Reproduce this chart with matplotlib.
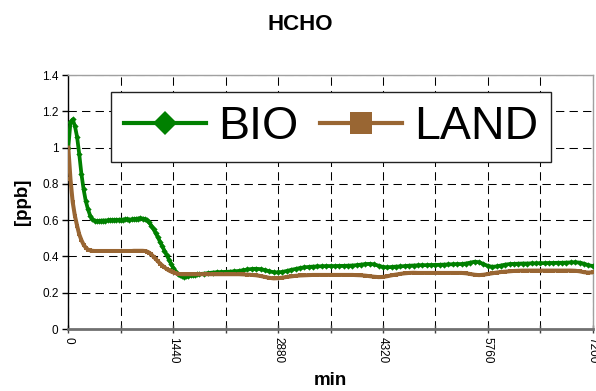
import matplotlib
matplotlib.use("Agg")
import matplotlib.pyplot as plt
from matplotlib.lines import Line2D

plt.rcParams["font.family"] = ["Liberation Sans", "DejaVu Sans"]

# Time axis: 30-min steps for the first 1800 min, hourly afterwards
minutes = list(range(0, 1800 + 1, 30)) + list(range(1860, 7200 + 1, 60))

bio_ppb = [
    # 0 .. 1800 (30-min)
    1.000, 1.140, 1.155, 1.120, 1.060, 0.965, 0.855, 0.770, 0.705, 0.660,
    0.625, 0.605, 0.597, 0.595, 0.595, 0.597, 0.598, 0.598, 0.599, 0.600,
    0.600, 0.601, 0.602, 0.602, 0.603, 0.603, 0.604, 0.604, 0.603, 0.604,
    0.605, 0.607, 0.609, 0.610, 0.609, 0.606, 0.600, 0.588, 0.570, 0.550,
    0.528, 0.505, 0.480, 0.456, 0.432, 0.408, 0.383, 0.360, 0.338, 0.318,
    0.303, 0.295, 0.290, 0.289, 0.290, 0.292, 0.295, 0.298, 0.300, 0.302,
    0.303,
    # 1860 .. 7200 (hourly)
    0.305, 0.308, 0.311, 0.313, 0.314, 0.315, 0.316, 0.318, 0.320, 0.324,
    0.328, 0.331, 0.332, 0.330, 0.325, 0.318, 0.313, 0.312, 0.315, 0.320,
    0.326, 0.331, 0.336, 0.340, 0.342, 0.344, 0.345, 0.346, 0.347, 0.347,
    0.347, 0.348, 0.348, 0.349, 0.350, 0.352, 0.355, 0.358, 0.359, 0.356,
    0.349, 0.342, 0.340, 0.342, 0.344, 0.345, 0.347, 0.349, 0.350, 0.351,
    0.352, 0.352, 0.353, 0.353, 0.354, 0.355, 0.356, 0.357, 0.358, 0.358,
    0.361, 0.366, 0.371, 0.368, 0.358, 0.348, 0.343, 0.345, 0.350, 0.355,
    0.358, 0.359, 0.360, 0.361, 0.361, 0.362, 0.362, 0.363, 0.363, 0.364,
    0.364, 0.365, 0.365, 0.366, 0.367, 0.368, 0.366, 0.360, 0.352, 0.347,
]

land_ppb = [
    # 0 .. 1800 (30-min)
    1.000, 0.825, 0.700, 0.625, 0.570, 0.522, 0.490, 0.465, 0.448, 0.438,
    0.433, 0.431, 0.430, 0.430, 0.430, 0.430, 0.430, 0.430, 0.430, 0.430,
    0.430, 0.430, 0.430, 0.430, 0.430, 0.430, 0.430, 0.430, 0.430, 0.430,
    0.431, 0.431, 0.431, 0.431, 0.431, 0.430, 0.427, 0.421, 0.411, 0.399,
    0.386, 0.373, 0.361, 0.350, 0.340, 0.331, 0.323, 0.317, 0.312, 0.308,
    0.305, 0.303, 0.302, 0.302, 0.302, 0.302, 0.302, 0.302, 0.302, 0.302,
    0.302,
    # 1860 .. 7200 (hourly)
    0.302, 0.302, 0.302, 0.302, 0.302, 0.302, 0.302, 0.302, 0.302, 0.301,
    0.300, 0.298, 0.296, 0.292, 0.287, 0.282, 0.279, 0.280, 0.283, 0.287,
    0.290, 0.293, 0.295, 0.296, 0.297, 0.298, 0.298, 0.298, 0.298, 0.298,
    0.298, 0.298, 0.298, 0.298, 0.298, 0.297, 0.296, 0.294, 0.291, 0.288,
    0.286, 0.287, 0.291, 0.296, 0.300, 0.304, 0.307, 0.309, 0.310, 0.309,
    0.309, 0.309, 0.309, 0.309, 0.309, 0.309, 0.309, 0.309, 0.309, 0.309,
    0.307, 0.303, 0.299, 0.297, 0.299, 0.303, 0.307, 0.311, 0.314, 0.316,
    0.318, 0.320, 0.321, 0.322, 0.322, 0.322, 0.322, 0.322, 0.322, 0.322,
    0.322, 0.322, 0.322, 0.322, 0.322, 0.321, 0.318, 0.313, 0.311, 0.312,
]

series_names = ["BIO", "LAND"]
series_colors = ["#008000", "#996633"]

x_ticks = list(range(0, 7200 + 1, 720))
x_tick_labels = ["0", "", "1440", "", "2880", "", "4320", "", "5760", "", "7200"]
y_ticks = [0, 0.2, 0.4, 0.6, 0.8, 1.0, 1.2, 1.4]
y_tick_labels = ["0", "0.2", "0.4", "0.6", "0.8", "1", "1.2", "1.4"]

fig = plt.figure(figsize=(5.96, 3.91), dpi=100)
ax = fig.add_axes([68.3 / 596, 62 / 391, 524.4 / 596, 254 / 391])

ax.plot(minutes, bio_ppb, color=series_colors[0], lw=2.7, marker="D",
        markersize=3.2, markeredgewidth=0, zorder=3)
ax.plot(minutes, land_ppb, color=series_colors[1], lw=2.9, marker="s",
        markersize=3.4, markeredgewidth=0, zorder=3)

ax.set_xlim(0, 7200)
ax.set_ylim(0, 1.4)
ax.set_xticks(x_ticks)
ax.set_xticklabels(x_tick_labels, rotation=270, fontsize=8.5)
ax.set_yticks(y_ticks)
ax.set_yticklabels(y_tick_labels, fontsize=8.5)
ax.tick_params(axis="x", direction="inout", length=6, width=1, pad=3,
               color="#404040")
ax.tick_params(axis="y", direction="out", length=4, width=1, pad=3)

ax.set_axisbelow(True)
ax.grid(True, color="black", lw=0.75, linestyle=(0, (8, 5)))

ax.spines["left"].set_color("black")
ax.spines["left"].set_linewidth(1.0)
ax.spines["bottom"].set_color("#707070")
ax.spines["bottom"].set_linewidth(2.0)
for side in ("top", "right"):
    ax.spines[side].set_color("#a0a0a0")
    ax.spines[side].set_linewidth(1.0)

ax.set_xlabel("min", fontsize=13.5, fontweight="bold", labelpad=6)
ax.set_ylabel("[ppb]", fontsize=13.5, fontweight="bold", labelpad=8)
fig.text(300 / 596, 1 - 24 / 391, "HCHO", ha="center", va="center",
         fontsize=16, fontweight="bold")

handles = [
    Line2D([], [], color=series_colors[0], lw=3, marker="D", markersize=12.5,
           markeredgewidth=0),
    Line2D([], [], color=series_colors[1], lw=3, marker="s", markersize=16,
           markeredgewidth=0),
]
leg = ax.legend(handles, series_names, loc="upper left",
                bbox_to_anchor=(0.0814, 0.933), borderaxespad=0, ncol=2,
                fontsize=33.5, handlelength=1.77, handletextpad=0.26,
                columnspacing=0.45, borderpad=0.28, fancybox=False,
                framealpha=1, edgecolor="#222222")
leg.get_frame().set_linewidth(1.0)

fig.savefig("out.png", dpi=100)
